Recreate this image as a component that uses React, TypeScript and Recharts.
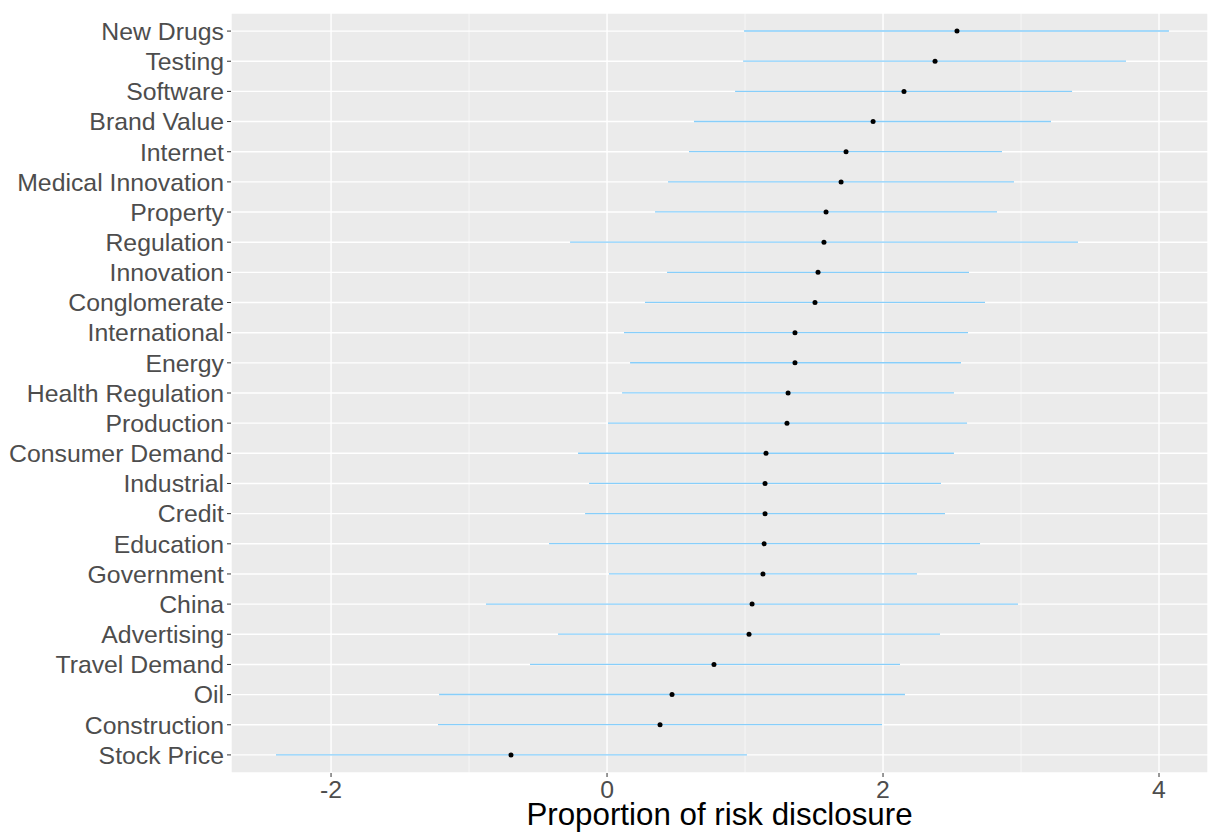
import React from "react";
import { ComposedChart, Bar, Line, XAxis, YAxis, CartesianGrid, Label } from "recharts";

const categories = [
  "New Drugs", "Testing", "Software", "Brand Value", "Internet", "Medical Innovation",
  "Property", "Regulation", "Innovation", "Conglomerate", "International", "Energy",
  "Health Regulation", "Production", "Consumer Demand", "Industrial", "Credit",
  "Education", "Government", "China", "Advertising", "Travel Demand", "Oil",
  "Construction", "Stock Price",
];
const estimates = [
  2.536, 2.377, 2.152, 1.928, 1.732, 1.696, 1.587, 1.572, 1.529, 1.507, 1.362, 1.362,
  1.312, 1.304, 1.152, 1.145, 1.145, 1.138, 1.130, 1.051, 1.029, 0.775, 0.471, 0.384, -0.696,
];
const lowers = [
  0.993, 0.986, 0.928, 0.630, 0.594, 0.442, 0.348, -0.268, 0.435, 0.275, 0.123, 0.167,
  0.109, 0.007, -0.210, -0.130, -0.159, -0.420, 0.014, -0.877, -0.355, -0.558, -1.217, -1.225, -2.399,
];
const uppers = [
  4.072, 3.761, 3.370, 3.217, 2.862, 2.949, 2.826, 3.413, 2.623, 2.739, 2.616, 2.565,
  2.514, 2.609, 2.514, 2.420, 2.449, 2.703, 2.246, 2.978, 2.413, 2.123, 2.159, 1.993, 1.014,
];
const xTicks = [-2, 0, 2, 4];
const minorTicks = [-1, 1, 3];

const data = categories.map((name, i) => ({
  name,
  est: estimates[i],
  range: [lowers[i], uppers[i]],
}));

const ErrLine = (props: any) => {
  const { x, y, width, height } = props;
  const cy = y + height / 2;
  return <line x1={x} x2={x + width} y1={cy} y2={cy} stroke="#87CEFA" strokeWidth={1.3} />;
};

export default function App() {
  const font = "'Liberation Sans', Arial, Helvetica, sans-serif";
  return (
    <div style={{ position: "absolute", left: 0, top: 0, width: 1208, height: 834, background: "#fff" }}>
      <ComposedChart
        width={1208}
        height={834}
        data={data}
        layout="vertical"
        margin={{ top: 13, right: 0, bottom: 0, left: 0 }}
        barCategoryGap={0}
      >
        <CartesianGrid fill="#EBEBEB" stroke="#FFFFFF" strokeWidth={1.4} />
        <CartesianGrid
          fill="none"
          stroke="#FFFFFF"
          strokeWidth={0.6}
          horizontal={false}
          verticalValues={minorTicks}
        />
        <XAxis
          type="number"
          domain={[-2.725, 4.355]}
          ticks={xTicks}
          allowDataOverflow
          height={61}
          axisLine={false}
          tickLine={{ stroke: "#333333" }}
          tickSize={4}
          tickMargin={3}
          tick={{ fill: "#4D4D4D", fontSize: 24.8, fontFamily: font }}
        >
          <Label
            value="Proportion of risk disclosure"
            position="insideBottom"
            offset={9}
            style={{ fill: "#000", fontSize: 31.3, fontFamily: font }}
          />
        </XAxis>
        <YAxis
          type="category"
          dataKey="name"
          width={231}
          axisLine={false}
          tickLine={{ stroke: "#333333" }}
          tickSize={4}
          tickMargin={3}
          padding={{ top: 3, bottom: 3 }}
          interval={0}
          tick={{ fill: "#4D4D4D", fontSize: 24.8, fontFamily: font }}
        />
        <Bar dataKey="range" shape={<ErrLine />} isAnimationActive={false} />
        <Line
          dataKey="est"
          stroke="none"
          dot={{ r: 2.5, fill: "#000", stroke: "none" }}
          activeDot={false}
          isAnimationActive={false}
        />
      </ComposedChart>
    </div>
  );
}
